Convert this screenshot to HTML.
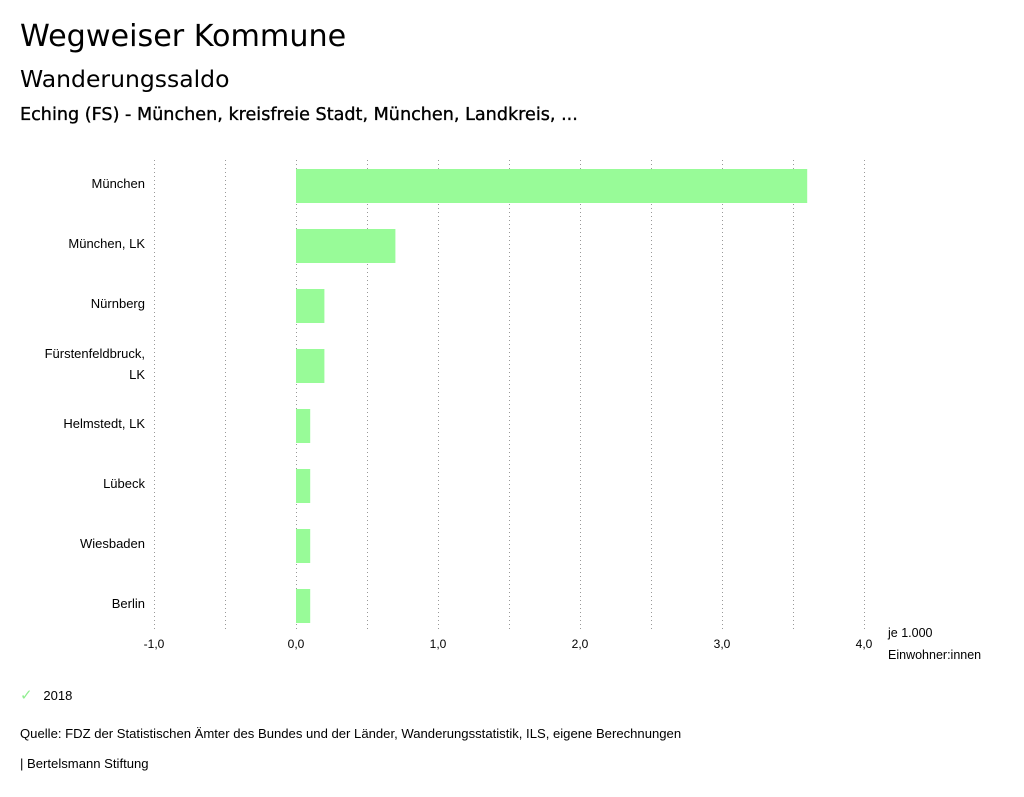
<!DOCTYPE html>
<html><head><meta charset="utf-8"><style>
body{margin:0;width:1024px;height:797px;background:#fff;font-family:"Liberation Sans","DejaVu Sans",sans-serif;overflow:hidden;position:relative}
.t{position:absolute;color:#000;white-space:nowrap}
.d{font-family:"DejaVu Sans",sans-serif}
</style></head><body>
<div class="t d" style="left:20px;top:19px;font-size:30.2px">Wegweiser Kommune</div>
<div class="t d" style="left:20px;top:65px;font-size:23.5px">Wanderungssaldo</div>
<div class="t d" style="left:20px;top:105px;font-size:17.6px;-webkit-text-stroke:0.35px #000">Eching (FS) - München, kreisfreie Stadt, München, Landkreis, ...</div>
<svg id="chart" width="1024" height="797" style="position:absolute;left:0;top:0"></svg>
<div class="t" style="left:20px;top:686px;font-size:13px"><span style="color:#90ee90;font-size:15px">✓</span>&nbsp;&nbsp;&nbsp;2018</div>
<div class="t" style="left:20px;top:726px;font-size:13.1px">Quelle: FDZ der Statistischen Ämter des Bundes und der Länder, Wanderungsstatistik, ILS, eigene Berechnungen</div>
<div class="t" style="left:20px;top:756px;font-size:13.1px">| Bertelsmann Stiftung</div>
<script>
const categories=["München","München, LK","Nürnberg","Fürstenfeldbruck, LK","Helmstedt, LK","Lübeck","Wiesbaden","Berlin"];
const values2018=[3.6,0.7,0.2,0.2,0.1,0.1,0.1,0.1];
const tickValues=[-1,0,1,2,3,4];
const tickLabels=["-1,0","0,0","1,0","2,0","3,0","4,0"];
const NS="http://www.w3.org/2000/svg";
const svg=document.getElementById('chart');
const x=v=>296+(v)*142;
const top0=156,rowH=60;
const y=i=>top0+i*rowH;
function mk(t,a){const e=document.createElementNS(NS,t);for(const k in a)e.setAttribute(k,a[k]);svg.appendChild(e);return e;}
for(let v=-1;v<=4.001;v+=0.5){
 const g=mk('line',{x1:x(v)+0.5,x2:x(v)+0.5,y1:160,y2:632,stroke:'#999','stroke-dasharray':'1,3','stroke-width':1});
 
 
}
tickValues.forEach((v,i)=>{
 const t=mk('text',{x:x(v),y:648,'text-anchor':'middle','font-size':12,fill:'#000'});
 t.textContent=tickLabels[i];
 
 
});
categories.forEach((c,i)=>{
 const v=values2018[i];
 const b=mk('rect',{x:Math.min(x(0),x(v)),y:y(i)+13,width:Math.abs(x(v)-x(0)),height:34,fill:'#98fb98'});
 
 
 const parts=c==="Fürstenfeldbruck, LK"?["Fürstenfeldbruck,","LK"]:[c];
 parts.forEach((p,j)=>{
  const t=mk('text',{x:145,y:y(i)+32+(parts.length>1?(j*21-10):0),'text-anchor':'end','font-size':13,fill:'#000'});
  t.textContent=p;
  
  
 });
});
[["je 1.000",637],["Einwohner:innen",659]].forEach(([s,yy])=>{
 const t=mk('text',{x:888,y:yy,'font-size':12.5,fill:'#000'});
 t.textContent=s;
 
 
});
</script>
</body></html>
